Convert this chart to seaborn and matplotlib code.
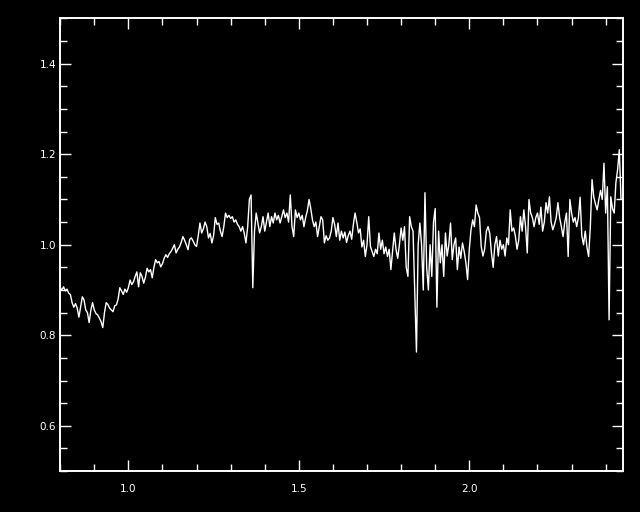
import numpy as np
import pandas as pd
import matplotlib
matplotlib.use("Agg")
import matplotlib.pyplot as plt
from matplotlib.ticker import MultipleLocator
import seaborn as sns

# wavelength grid: 0.800 .. 2.445 step 0.005 (one row below = 0.05)
wave = np.round(np.arange(330) * 0.005 + 0.800, 3)

flux = [
    0.905, 0.900, 0.907, 0.898, 0.902, 0.893, 0.890, 0.872, 0.862, 0.870,
    0.860, 0.840, 0.862, 0.885, 0.878, 0.856, 0.850, 0.828, 0.855, 0.872,
    0.856, 0.848, 0.845, 0.838, 0.830, 0.817, 0.850, 0.872, 0.868, 0.860,
    0.856, 0.852, 0.865, 0.867, 0.880, 0.905, 0.898, 0.890, 0.902, 0.895,
    0.905, 0.922, 0.912, 0.918, 0.930, 0.940, 0.907, 0.938, 0.930, 0.915,
    0.928, 0.948, 0.940, 0.945, 0.927, 0.950, 0.967, 0.960, 0.963, 0.951,
    0.958, 0.970, 0.978, 0.972, 0.980, 0.985, 0.992, 1.000, 0.982, 0.990,
    0.995, 1.005, 1.018, 1.010, 1.000, 0.989, 1.012, 1.015, 1.008, 1.000,
    0.996, 1.020, 1.048, 1.026, 1.035, 1.050, 1.040, 1.015, 1.025, 1.004,
    1.020, 1.060, 1.045, 1.048, 1.030, 1.018, 1.040, 1.070, 1.060, 1.065,
    1.058, 1.062, 1.050, 1.055, 1.045, 1.040, 1.030, 1.040, 1.025, 1.004,
    1.040, 1.100, 1.110, 0.905, 1.030, 1.070, 1.048, 1.026, 1.040, 1.062,
    1.030, 1.050, 1.070, 1.040, 1.062, 1.048, 1.070, 1.055, 1.065, 1.048,
    1.062, 1.077, 1.060, 1.070, 1.050, 1.110, 1.040, 1.018, 1.077, 1.060,
    1.070, 1.055, 1.065, 1.040, 1.060, 1.075, 1.100, 1.080, 1.055, 1.040,
    1.050, 1.018, 1.040, 1.062, 1.055, 1.004, 1.020, 1.010, 1.015, 1.030,
    1.060, 1.045, 1.018, 1.048, 1.010, 1.030, 1.015, 1.028, 1.005, 1.020,
    1.030, 1.012, 1.045, 1.070, 1.050, 1.026, 1.035, 0.995, 1.010, 0.974,
    1.000, 1.062, 0.996, 0.985, 0.974, 0.990, 0.980, 1.026, 0.990, 1.010,
    0.980, 0.995, 0.974, 0.990, 0.945, 0.985, 1.026, 0.990, 0.970, 1.000,
    1.037, 1.010, 1.040, 0.950, 0.930, 1.062, 1.040, 1.030, 0.900, 0.763,
    1.000, 1.048, 1.000, 0.900, 1.115, 0.950, 0.900, 1.000, 0.930, 1.050,
    1.080, 0.862, 1.030, 0.960, 1.000, 0.930, 1.026, 0.975, 1.000, 1.048,
    0.967, 1.000, 1.015, 0.945, 0.995, 0.970, 1.004, 0.985, 0.960, 0.923,
    0.990, 1.033, 1.055, 1.040, 1.088, 1.070, 1.060, 0.996, 0.975, 0.990,
    1.030, 1.040, 1.025, 0.982, 0.950, 1.000, 1.018, 0.975, 1.010, 0.990,
    1.000, 0.975, 1.015, 1.000, 1.077, 1.030, 1.037, 1.020, 0.990, 1.010,
    1.062, 1.030, 1.077, 1.040, 0.982, 1.100, 1.070, 1.060, 1.040, 1.060,
    1.070, 1.045, 1.083, 1.030, 1.050, 1.093, 1.070, 1.106, 1.050, 1.033,
    1.045, 1.060, 1.093, 1.060, 1.040, 1.018, 1.050, 1.070, 0.974, 1.100,
    1.070, 1.050, 1.060, 1.040, 1.060, 1.105, 1.020, 1.000, 1.030, 0.995,
    0.974, 1.040, 1.144, 1.106, 1.090, 1.077, 1.100, 1.120, 1.100, 1.180,
    1.070, 1.128, 0.834, 1.106, 1.080, 1.070, 1.137, 1.166, 1.210, 1.100,
]

df = pd.DataFrame({"wave": wave, "flux": flux})

sns.set_theme(style="ticks", rc={
    "figure.facecolor": "black", "axes.facecolor": "black",
    "axes.edgecolor": "white", "text.color": "white",
    "xtick.color": "white", "ytick.color": "white",
})
plt.rcParams["font.family"] = ["DejaVu Sans"]

fig = plt.figure(figsize=(6.4, 5.12), dpi=100)
ax = fig.add_axes([0.094, 0.080, 0.879, 0.884])

sns.lineplot(data=df, x="wave", y="flux", color="white", linewidth=1.0, ax=ax,
             estimator=None, sort=False)

ax.set_xlim(0.8, 2.45)
ax.set_ylim(0.5, 1.5)
ax.xaxis.set_major_locator(MultipleLocator(0.5))
ax.xaxis.set_minor_locator(MultipleLocator(0.1))
ax.yaxis.set_major_locator(MultipleLocator(0.2))
ax.yaxis.set_minor_locator(MultipleLocator(0.05))
ax.set_xlabel("")
ax.set_ylabel("")

for s in ax.spines.values():
    s.set_visible(True)
    s.set_color("white")
    s.set_linewidth(1.4)

ax.tick_params(which="both", direction="in", top=True, right=True,
               colors="white", width=1.0, labelsize=7.5)
ax.tick_params(which="major", length=8)
ax.tick_params(which="minor", length=5)
ax.tick_params(axis="x", which="major", pad=9)
ax.tick_params(axis="y", which="major", pad=3)

fig.savefig("out.png", dpi=100, facecolor="black")
